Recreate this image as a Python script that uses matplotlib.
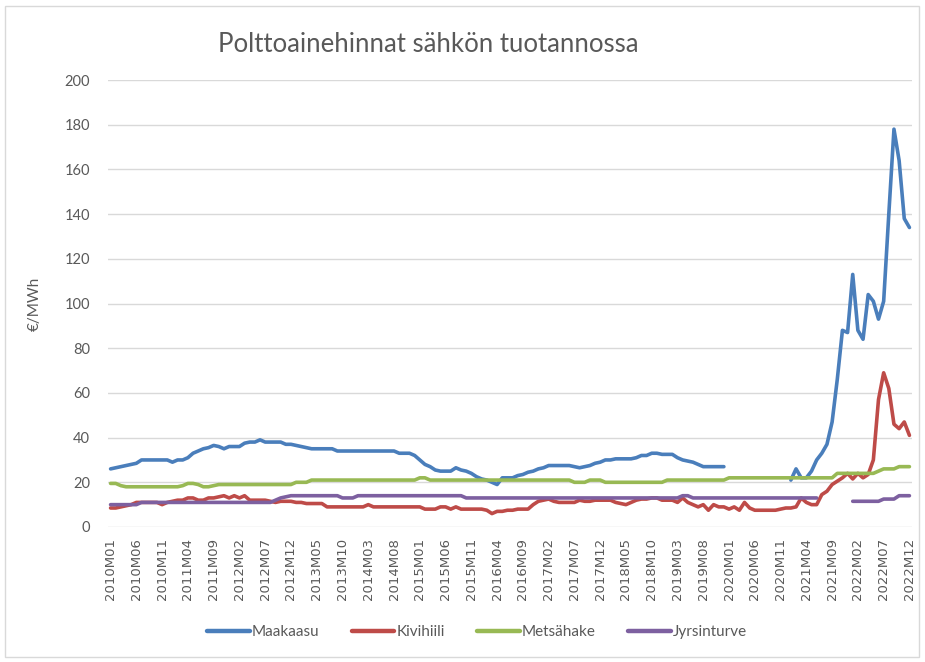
"""Polttoainehinnat sähkön tuotannossa - monthly fuel prices 2010-2022."""
import matplotlib

matplotlib.use("Agg")
import matplotlib.pyplot as plt
import numpy as np
from matplotlib.patches import Rectangle

NA = None

# Monthly values 2010M01 .. 2022M12, one row per year (EUR/MWh)
maakaasu = [
    26, 26.5, 27, 27.5, 28, 28.5, 30, 30, 30, 30, 30, 30,
    29, 30, 30, 31, 33, 34, 35, 35.5, 36.5, 36, 35, 36,
    36, 36, 37.5, 38, 38, 39, 38, 38, 38, 38, 37, 37,
    36.5, 36, 35.5, 35, 35, 35, 35, 35, 34, 34, 34, 34,
    34, 34, 34, 34, 34, 34, 34, 34, 33, 33, 33, 32,
    30, 28, 27, 25.5, 25, 25, 25, 26.5, 25.5, 25, 24, 22.5,
    21.5, 21, 20, 19, 22, 22, 22, 23, 23.5, 24.5, 25, 26,
    26.5, 27.5, 27.5, 27.5, 27.5, 27.5, 27, 26.5, 27, 27.5, 28.5, 29,
    30, 30, 30.5, 30.5, 30.5, 30.5, 31, 32, 32, 33, 33, 32.5,
    32.5, 32.5, 31, 30, 29.5, 29, 28, 27, 27, 27, 27, 27,
    NA, NA, NA, NA, NA, NA, NA, NA, NA, NA, NA, NA,
    21, 26, 22, 22, 25, 30, 33, 37, 47, 66, 88, 87,
    113, 88, 84, 104, 101, 93, 101, 140, 178, 164, 138, 134,
]
kivihiili = [
    8.5, 8.5, 9, 9.5, 10, 11, 11, 11, 11, 11, 10, 11,
    11.5, 12, 12, 13, 13, 12, 12, 13, 13, 13.5, 14, 13,
    14, 13, 14, 12, 12, 12, 12, 11.5, 11, 11.5, 11.5, 11.5,
    11, 11, 10.5, 10.5, 10.5, 10.5, 9, 9, 9, 9, 9, 9,
    9, 9, 10, 9, 9, 9, 9, 9, 9, 9, 9, 9,
    9, 8, 8, 8, 9, 9, 8, 9, 8, 8, 8, 8,
    8, 7.5, 6, 7, 7, 7.5, 7.5, 8, 8, 8, 10, 11.5,
    12, 12.5, 11.5, 11, 11, 11, 11, 12, 11.5, 11.5, 12, 12,
    12, 12, 11, 10.5, 10, 11, 12, 12.5, 12.5, 13, 13, 12,
    12, 12, 11, 13, 11, 10, 9, 10, 7.5, 10, 9, 9,
    8, 9, 7.5, 11, 8.5, 7.5, 7.5, 7.5, 7.5, 7.5, 8, 8.5,
    8.5, 9, 13, 11, 10, 10, 14.5, 16, 19, 20.5, 22, 24,
    21.5, 24, 22, 23.5, 30, 57, 69, 62, 46, 44, 47, 41,
]
metsahake = [
    19.5, 19.5, 18.5, 18, 18, 18, 18, 18, 18, 18, 18, 18,
    18, 18, 18.5, 19.5, 19.5, 19, 18, 18, 18.5, 19, 19, 19,
    19, 19, 19, 19, 19, 19, 19, 19, 19, 19, 19, 19,
    20, 20, 20, 21, 21, 21, 21, 21, 21, 21, 21, 21,
    21, 21, 21, 21, 21, 21, 21, 21, 21, 21, 21, 21,
    22, 22, 21, 21, 21, 21, 21, 21, 21, 21, 21, 21,
    21, 21, 21, 21, 21, 21, 21, 21, 21, 21, 21, 21,
    21, 21, 21, 21, 21, 21, 20, 20, 20, 21, 21, 21,
    20, 20, 20, 20, 20, 20, 20, 20, 20, 20, 20, 20,
    21, 21, 21, 21, 21, 21, 21, 21, 21, 21, 21, 21,
    22, 22, 22, 22, 22, 22, 22, 22, 22, 22, 22, 22,
    22, 22, 22, 22, 22, 22, 22, 22, 22, 24, 24, 24,
    24, 24, 24, 24, 24, 25, 26, 26, 26, 27, 27, 27,
]
jyrsinturve = [
    10, 10, 10, 10, 10, 10, 11, 11, 11, 11, 11, 11,
    11, 11, 11, 11, 11, 11, 11, 11, 11, 11, 11, 11,
    11, 11, 11, 11, 11, 11, 11, 11, 12, 13, 13.5, 14,
    14, 14, 14, 14, 14, 14, 14, 14, 14, 13, 13, 13,
    14, 14, 14, 14, 14, 14, 14, 14, 14, 14, 14, 14,
    14, 14, 14, 14, 14, 14, 14, 14, 14, 13, 13, 13,
    13, 13, 13, 13, 13, 13, 13, 13, 13, 13, 13, 13,
    13, 13, 13, 13, 13, 13, 13, 13, 13, 13, 13, 13,
    13, 13, 13, 13, 13, 13, 13, 13, 13, 13, 13, 13,
    13, 13, 13, 14, 14, 13, 13, 13, 13, 13, 13, 13,
    13, 13, 13, 13, 13, 13, 13, 13, 13, 13, 13, 13,
    13, 13, 13, 13, 13, 13, NA, NA, NA, NA, NA, NA,
    11.5, 11.5, 11.5, 11.5, 11.5, 11.5, 12.5, 12.5, 12.5, 14, 14, 14,
]

years = list(range(2010, 2023))
months = [f"{y}M{m:02d}" for y in years for m in range(1, 13)]
tick_labels = [
    "2010M01", "2010M06", "2010M11", "2011M04", "2011M09", "2012M02", "2012M07", "2012M12",
    "2013M05", "2013M10", "2014M03", "2014M08", "2015M01", "2015M06", "2015M11", "2016M04",
    "2016M09", "2017M02", "2017M07", "2017M12", "2018M05", "2018M10", "2019M03", "2019M08",
    "2020M01", "2020M06", "2020M11", "2021M04", "2021M09", "2022M02", "2022M07", "2022M12",
]

series = [
    ("Maakaasu", maakaasu, "#4a7ebb"),
    ("Kivihiili", kivihiili, "#be4b48"),
    ("Metsähake", metsahake, "#98b954"),
    ("Jyrsinturve", jyrsinturve, "#7d60a0"),
]

text_col = "#595959"
grid_col = "#d9d9d9"
narrow = ["Lato", "DejaVu Sans"]

fig = plt.figure(figsize=(9.25, 6.62), dpi=100)
ax = fig.add_axes([108 / 925, 1 - 527 / 662, 804 / 925, 447 / 662])

x = np.arange(len(months))
for name, vals, col in series:
    y = np.array([np.nan if v is None else v for v in vals], dtype=float)
    ax.plot(x, y, color=col, lw=2.6, label=name, solid_capstyle="round", solid_joinstyle="round")

ax.set_xlim(-0.5, len(months) - 0.5)
ax.set_ylim(0, 200)
ax.set_yticks(range(0, 201, 20))
ax.yaxis.grid(True, color=grid_col, lw=1)
ax.set_axisbelow(True)
for s in ax.spines.values():
    s.set_visible(False)
ax.tick_params(length=0)
ax.tick_params(axis="y", pad=13, labelsize=10.5, labelcolor=text_col)
for lab in ax.get_yticklabels():
    lab.set_family(narrow)

ax.set_xticks([months.index(t) for t in tick_labels])
ax.set_xticklabels(tick_labels, rotation=90, fontsize=9.5, color=text_col)
ax.tick_params(axis="x", pad=8)

ax.set_ylabel("€/MWh", fontsize=11, color=text_col, family=narrow, labelpad=16)

fig.text(428 / 925, 1 - 45 / 662, "Polttoainehinnat sähkön tuotannossa", ha="center", va="center",
         fontsize=18.5, color=text_col, family=narrow)

leg = fig.legend(loc="center", bbox_to_anchor=(477 / 925, 1 - 632 / 662), ncol=4, frameon=False,
                 handlelength=2.8, handletextpad=0.15, columnspacing=2.1,
                 prop={"family": narrow, "size": 11})
for t in leg.get_texts():
    t.set_color(text_col)
for h in leg.get_lines():
    h.set_linewidth(3.2)

fig.patches.append(Rectangle((5 / 925, 5 / 662), 914 / 925, 651 / 662, transform=fig.transFigure,
                             fill=False, edgecolor=grid_col, lw=1))

fig.savefig("out.png", dpi=100)
